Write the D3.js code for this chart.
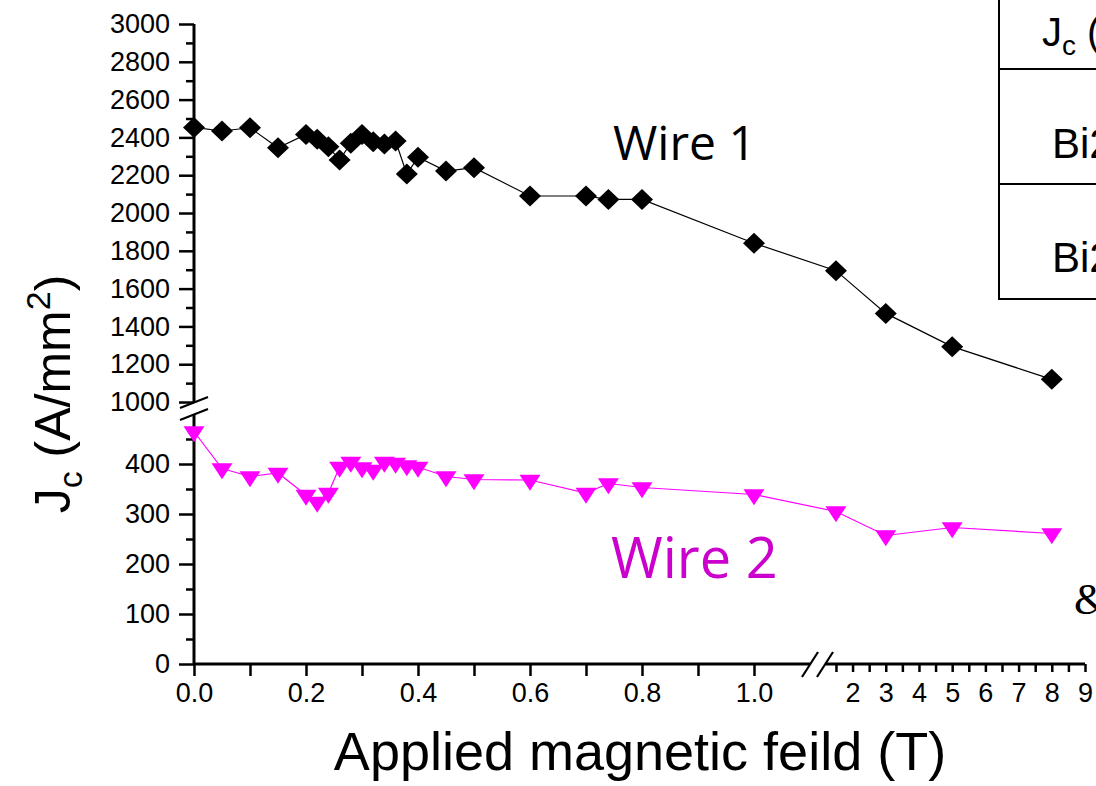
<!DOCTYPE html>
<html>
<head>
<meta charset="utf-8">
<script src="https://cdn.jsdelivr.net/npm/d3@7"></script>
<style>
  body { margin: 0; background: #fff; overflow: hidden; }
  svg { display: block; }
  .axis line { stroke: #000; stroke-width: 2.5px; }
</style>
</head>
<body>
<script>
// field values (T), same for both wires
var fieldT = [0, 0.05, 0.1, 0.15, 0.2, 0.22, 0.24, 0.26, 0.28, 0.3, 0.32, 0.34, 0.36, 0.38, 0.4, 0.45, 0.5, 0.6, 0.7, 0.74, 0.8, 1.0, 1.5, 3, 5, 8];
// Jc (A/mm2)
var wire1Jc = [2453, 2434, 2451, 2345, 2416, 2390, 2351, 2280, 2369, 2416, 2377, 2365, 2381, 2206, 2295, 2222, 2240, 2090, 2090, 2072, 2072, 1840, 1695, 1469, 1293, 1120];
var wire2Jc = [465, 391, 375, 382, 338, 324, 342, 394, 404, 393, 388, 404, 402, 397, 394, 375, 369, 368, 342, 361, 353, 339, 305, 257, 273, 261];

var xTicksLow = [0, 0.2, 0.4, 0.6, 0.8, 1.0];
var xTicksLowMinor = [0.1, 0.3, 0.5, 0.7, 0.9];
var xTicksHigh = [2, 3, 4, 5, 6, 7, 8, 9];
var xTicksHighMinor = [1.5, 2.5, 3.5, 4.5, 5.5, 6.5, 7.5, 8.5];
var yTicksHigh = [1000, 1200, 1400, 1600, 1800, 2000, 2200, 2400, 2600, 2800, 3000];
var yTicksLow = [0, 100, 200, 300, 400];

var width = 1096, height = 786;

var svg = d3.select("body")
    .append("svg")
        .attr("width", width)
        .attr("height", height);

// broken x axis: two linear pieces
var xLow = d3.scaleLinear().domain([0, 1.1]).range([194, 810]);
var xHigh = d3.scaleLinear().domain([1.2, 9]).range([826, 1085]);
function xPos(v) { return v <= 1.1 ? xLow(v) : xHigh(v); }

// broken y axis: two linear pieces
var yHigh = d3.scaleLinear().domain([998, 3000]).range([402.4, 24]);
var yLow = d3.scaleLinear().domain([0, 498]).range([664, 415]);

// minor ticks first
svg.append("g").attr("class", "axis").attr("transform", "translate(0,664)")
    .call(d3.axisBottom(xLow).tickValues(xTicksLowMinor).tickSize(12).tickFormat(""));
svg.append("g").attr("class", "axis").attr("transform", "translate(0,664)")
    .call(d3.axisBottom(xHigh).tickValues(xTicksHighMinor).tickSize(8).tickFormat(""));
svg.append("g").attr("class", "axis").attr("transform", "translate(194,0)")
    .call(d3.axisLeft(yHigh).tickValues(d3.range(1100, 3000, 200)).tickSize(8).tickFormat(""));
svg.append("g").attr("class", "axis").attr("transform", "translate(194,0)")
    .call(d3.axisLeft(yLow).tickValues([50, 150, 250, 350, 450]).tickSize(8).tickFormat(""));

// major ticks + labels
svg.append("g").attr("class", "axis").attr("transform", "translate(0,664)")
    .call(d3.axisBottom(xLow).tickValues(xTicksLow).tickSize(12).tickPadding(7).tickFormat(d3.format(".1f")));
svg.append("g").attr("class", "axis").attr("transform", "translate(0,664)")
    .call(d3.axisBottom(xHigh).tickValues(xTicksHigh).tickSize(8).tickPadding(11).tickFormat(d3.format("d")));
svg.append("g").attr("class", "axis").attr("transform", "translate(194,0)")
    .call(d3.axisLeft(yHigh).tickValues(yTicksHigh).tickSize(15).tickPadding(9).tickFormat(d3.format("d")));
svg.append("g").attr("class", "axis").attr("transform", "translate(194,0)")
    .call(d3.axisLeft(yLow).tickValues(yTicksLow).tickSize(15).tickPadding(9).tickFormat(d3.format("d")));

svg.selectAll(".axis text")
    .style("font-family", "'Liberation Sans', Arial, sans-serif")
    .style("font-size", "27px")
    .style("fill", "#000");

// remove the default domain paths, draw axis lines ourselves with the gaps
svg.selectAll(".axis path.domain").remove();
var axisLines = [
    [194, yHigh(3000), 194, 403],
    [194, 415, 194, 665],
    [193, 664, 810, 664],
    [825, 664, xHigh(9), 664]
];
svg.selectAll(".axisline")
    .data(axisLines)
    .enter()
    .append("line")
    .attr("class", "axisline")
    .attr("x1", function(d) { return d[0]; })
    .attr("y1", function(d) { return d[1]; })
    .attr("x2", function(d) { return d[2]; })
    .attr("y2", function(d) { return d[3]; })
    .style("stroke", "#000")
    .style("stroke-width", 3);

// break marks
var breaks = [
    [180, 408, 208, 397], [180, 420, 208, 409],
    [802, 677, 818, 652], [817, 677, 833, 652]
];
svg.selectAll(".breakmark")
    .data(breaks)
    .enter()
    .append("line")
    .attr("class", "breakmark")
    .attr("x1", function(d) { return d[0]; })
    .attr("y1", function(d) { return d[1]; })
    .attr("x2", function(d) { return d[2]; })
    .attr("y2", function(d) { return d[3]; })
    .style("stroke", "#000")
    .style("stroke-width", 2.2);

// build point lists
var wire1 = fieldT.map(function(f, i) { return {x: xPos(f), y: yHigh(wire1Jc[i])}; });
var wire2 = fieldT.map(function(f, i) { return {x: xPos(f), y: yLow(wire2Jc[i])}; });

var line = d3.line()
    .x(function(d) { return d.x; })
    .y(function(d) { return d.y; });

svg.append("path")
    .attr("d", line(wire1))
    .style("fill", "none")
    .style("stroke", "#000")
    .style("stroke-width", 1.2);

svg.append("path")
    .attr("d", line(wire2))
    .style("fill", "none")
    .style("stroke", "#ff00ff")
    .style("stroke-width", 1.2);

// diamonds for wire 1
svg.selectAll(".diamond")
    .data(wire1)
    .enter()
    .append("path")
    .attr("class", "diamond")
    .attr("d", "M0,-10.5L11,0L0,10.5L-11,0Z")
    .attr("transform", function(d) { return "translate(" + d.x + "," + d.y + ")"; })
    .style("fill", "#000");

// down triangles for wire 2
svg.selectAll(".tri")
    .data(wire2)
    .enter()
    .append("path")
    .attr("class", "tri")
    .attr("d", "M-10.5,-5.3L10.5,-5.3L0,10.7Z")
    .attr("transform", function(d) { return "translate(" + d.x + "," + d.y + ")"; })
    .style("fill", "#ff00ff");

// series labels
svg.append("text")
    .attr("x", 613).attr("y", 160)
    .style("font-family", "'Open Sans', sans-serif")
    .style("font-size", "48px")
    .text("Wire 1");

svg.append("text")
    .attr("x", 611).attr("y", 578)
    .style("font-family", "'Open Sans', sans-serif")
    .style("font-size", "56px")
    .style("fill", "#cc00cc")
    .text("Wire 2");

// axis titles
svg.append("text")
    .attr("x", 640).attr("y", 770)
    .attr("text-anchor", "middle")
    .style("font-family", "'Liberation Sans', Arial, sans-serif")
    .style("font-size", "54px")
    .text("Applied magnetic feild (T)");

var yTitle = svg.append("text")
    .attr("transform", "translate(70,394) rotate(-90)")
    .attr("text-anchor", "middle")
    .style("font-family", "'Liberation Sans', Arial, sans-serif")
    .style("font-size", "50px");
yTitle.append("tspan").text("J");
yTitle.append("tspan").attr("dy", 12).style("font-size", "34px").text("c");
yTitle.append("tspan").attr("dy", -12).text(" (A/mm");
yTitle.append("tspan").attr("dy", -20).style("font-size", "34px").text("2");
yTitle.append("tspan").attr("dy", 20).text(")");

// table at top right (cut off by the frame)
var table = svg.append("g");
table.append("rect")
    .attr("x", 999).attr("y", -10)
    .attr("width", 200).attr("height", 309)
    .style("fill", "none")
    .style("stroke", "#000")
    .style("stroke-width", 2);
table.selectAll(".rowline")
    .data([69, 184])
    .enter()
    .append("line")
    .attr("x1", 999).attr("x2", 1200)
    .attr("y1", function(d) { return d; })
    .attr("y2", function(d) { return d; })
    .style("stroke", "#000")
    .style("stroke-width", 2);

var head = table.append("text")
    .attr("x", 1042).attr("y", 46)
    .style("font-family", "'Liberation Sans', Arial, sans-serif")
    .style("font-size", "40px");
head.append("tspan").text("J");
head.append("tspan").attr("dy", 9).style("font-size", "28px").text("c");
head.append("tspan").attr("dy", -9).text(" (");

table.selectAll(".cell")
    .data([158, 272])
    .enter()
    .append("text")
    .attr("x", 1052)
    .attr("y", function(d) { return d; })
    .style("font-family", "'Liberation Sans', Arial, sans-serif")
    .style("font-size", "42px")
    .text("Bi2");

svg.append("text")
    .attr("x", 1074).attr("y", 614)
    .style("font-family", "'Liberation Serif', serif")
    .style("font-size", "44px")
    .text("&");
</script>
</body>
</html>
